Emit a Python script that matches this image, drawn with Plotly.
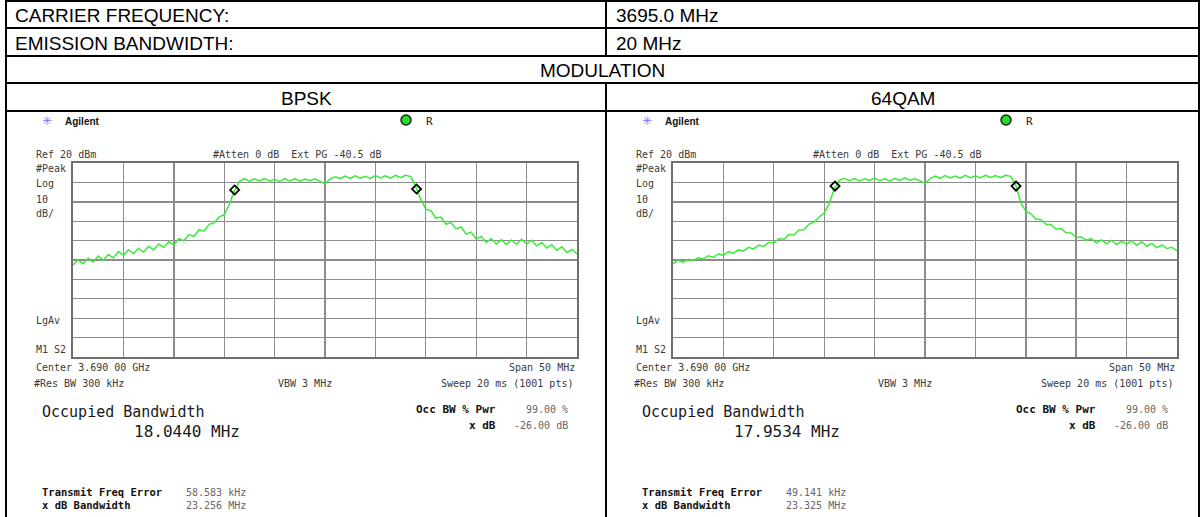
import plotly.graph_objects as go

W, H = 1203, 517

# ---------------- data ----------------
header_labels = ["CARRIER FREQUENCY:", "EMISSION BANDWIDTH:"]
header_values = ["3695.0 MHz", "20 MHz"]
section_title = "MODULATION"
modulations = ["BPSK", "64QAM"]

freq_mhz = [-25.0, -24.5, -24.0, -23.5, -23.0, -22.5, -22.0, -21.5, -21.0, -20.5,
            -20.0, -19.5, -19.0, -18.5, -18.0, -17.5, -17.0, -16.5, -16.0, -15.5,
            -15.0, -14.5, -14.0, -13.5, -13.0, -12.5, -12.0, -11.5, -11.0, -10.5,
            -10.0, -9.5, -9.0, -8.5, -8.0, -7.5, -7.0, -6.5, -6.0, -5.5,
            -5.0, -4.5, -4.0, -3.5, -3.0, -2.5, -2.0, -1.5, -1.0, -0.5,
            0.0, 0.5, 1.0, 1.5, 2.0, 2.5, 3.0, 3.5, 4.0, 4.5,
            5.0, 5.5, 6.0, 6.5, 7.0, 7.5, 8.0, 8.5, 9.0, 9.5,
            10.0, 10.5, 11.0, 11.5, 12.0, 12.5, 13.0, 13.5, 14.0, 14.5,
            15.0, 15.5, 16.0, 16.5, 17.0, 17.5, 18.0, 18.5, 19.0, 19.5,
            20.0, 20.5, 21.0, 21.5, 22.0, 22.5, 23.0, 23.5, 24.0, 24.5, 25.0]

bpsk_dbm = [-32.6, -30.0, -31.9, -29.1, -31.0, -28.0, -30.1, -27.2, -28.9, -25.6,
            -27.6, -24.7, -26.8, -23.9, -25.9, -22.9, -24.8, -21.8, -23.5, -20.6,
            -22.1, -19.0, -20.1, -16.9, -17.8, -14.5, -15.0, -11.6, -10.9, -7.8,
            -6.7, -1.4, 5.6, 10.4, 11.9, 10.6, 11.8, 10.7, 12.0, 10.8,
            11.6, 10.5, 11.9, 10.7, 12.0, 10.6, 11.7, 10.9, 11.9, 10.6,
            9.2, 11.8, 12.9, 11.9, 13.3, 12.1, 13.4, 12.2, 13.1, 12.0,
            13.5, 12.3, 13.4, 12.2, 13.6, 12.4, 13.7, 13.0, 7.8, 1.2,
            -3.8, -4.6, -8.4, -7.9, -11.6, -10.7, -14.0, -13.0, -16.6, -15.6,
            -19.2, -17.8, -20.8, -19.0, -21.7, -19.6, -22.0, -19.7, -21.9, -19.3,
            -21.8, -19.8, -22.7, -21.0, -23.8, -22.1, -25.0, -23.2, -26.1, -24.6, -26.9]

qam64_dbm = [-32.0, -30.2, -31.1, -29.6, -30.4, -28.7, -29.5, -27.8, -28.7, -26.9,
             -27.6, -25.7, -26.5, -24.8, -25.4, -23.5, -24.3, -22.3, -23.0, -20.9,
             -21.3, -19.0, -19.3, -16.9, -17.1, -14.5, -14.4, -11.5, -10.5, -7.8,
             -5.7, -0.8, 6.8, 11.0, 12.1, 10.9, 12.0, 10.8, 11.9, 11.0,
             12.2, 10.9, 11.8, 10.7, 12.1, 11.0, 12.3, 11.1, 11.9, 10.9,
             9.4, 12.0, 13.2, 12.1, 13.5, 12.3, 13.3, 12.2, 13.6, 12.4,
             13.4, 12.3, 13.7, 12.5, 13.5, 12.4, 13.7, 13.1, 8.6, -0.5,
             -4.8, -6.2, -8.9, -9.2, -11.6, -11.8, -14.0, -13.8, -16.0, -16.1,
             -18.4, -18.2, -19.8, -19.0, -21.1, -19.6, -21.6, -19.9, -22.0, -20.4,
             -21.9, -20.0, -22.4, -20.6, -22.9, -21.4, -23.6, -22.2, -24.1, -23.4, -25.3]

bpsk_marker_freq = [-8.96, 9.08]
bpsk_marker_dbm = [6.1, 6.6]
qam64_marker_freq = [-8.93, 9.03]
qam64_marker_dbm = [8.1, 8.1]

occ_bw_values = ["18.0440 MHz", "17.9534 MHz"]
freq_error_values = ["58.583 kHz", "49.141 kHz"]
xdb_bw_values = ["23.256 MHz", "23.325 MHz"]

ref_level_dbm = 20
db_per_div = 10
span_mhz = 50

# ---------------- layout geometry (pixels) ----------------
TL, TR = 6, 1199          # table left/right border
COL = 606                 # column divider
ROWS = [1, 28, 56, 83, 111]
CELL_OFF = [0, 600]       # horizontal offset of the two screenshot cells
GRID_X = (73, 577)
GRID_Y = (163, 357)

MONO = "DejaVu Sans Mono"
ARIAL = "Liberation Sans"

fig = go.Figure()

# pixel canvas axis
fig.add_trace(go.Scatter(x=[0, W], y=[0, H], mode="markers",
                         marker=dict(opacity=0), hoverinfo="skip",
                         showlegend=False, xaxis="x", yaxis="y"))

layout = dict(
    width=W, height=H, margin=dict(l=0, r=0, t=0, b=0, pad=0),
    paper_bgcolor="white", plot_bgcolor="white", showlegend=False,
    xaxis=dict(domain=[0, 1], range=[0, W], visible=False, fixedrange=True),
    yaxis=dict(domain=[0, 1], range=[H, 0], visible=False, fixedrange=True),
)

annotations = []
shapes = []


def ann(x, y, text, size=10, color="#3a3a3a", family=MONO, xanchor="left"):
    annotations.append(dict(x=x, y=y, xref="x", yref="y", text=text,
                            showarrow=False, xanchor=xanchor, yanchor="middle",
                            font=dict(size=size, color=color, family=family),
                            borderpad=0))


def hline(y, x0, x1, w=2, c="black"):
    shapes.append(dict(type="line", xref="x", yref="y", x0=x0, x1=x1, y0=y, y1=y,
                       line=dict(color=c, width=w), layer="above"))


def vline(x, y0, y1, w=2, c="black"):
    shapes.append(dict(type="line", xref="x", yref="y", x0=x, x1=x, y0=y0, y1=y1,
                       line=dict(color=c, width=w), layer="above"))


# table lines
for y in ROWS:
    hline(y, TL - 1, TR + 1)
vline(TL, ROWS[0], H)
vline(TR, ROWS[0], H)
vline(COL, ROWS[0], ROWS[2])
vline(COL, ROWS[3], H)

# header texts
for i in range(2):
    yc = (ROWS[i] + ROWS[i + 1]) / 2 + 1
    ann(TL + 8, yc, header_labels[i], size=19, color="black", family=ARIAL)
    ann(COL + 9, yc, header_values[i], size=19, color="black", family=ARIAL)
ann((TL + TR) / 2, (ROWS[2] + ROWS[3]) / 2 + 1, section_title, size=19,
    color="black", family=ARIAL, xanchor="center")
ann((TL + COL) / 2, (ROWS[3] + ROWS[4]) / 2 + 1, modulations[0], size=19,
    color="black", family=ARIAL, xanchor="center")
ann((COL + TR) / 2, (ROWS[3] + ROWS[4]) / 2 + 1, modulations[1], size=19,
    color="black", family=ARIAL, xanchor="center")

traces_y = [bpsk_dbm, qam64_dbm]
markers_f = [bpsk_marker_freq, qam64_marker_freq]
markers_y = [bpsk_marker_dbm, qam64_marker_dbm]

for k in range(2):
    o = CELL_OFF[k]
    xa = "x%d" % (k + 2)
    ya = "y%d" % (k + 2)
    gx0, gx1 = GRID_X[0] + o, GRID_X[1] + o
    layout["xaxis%d" % (k + 2)] = dict(
        domain=[gx0 / W, gx1 / W], range=[-span_mhz / 2, span_mhz / 2],
        anchor=ya, dtick=5, tick0=-25, showgrid=True, gridcolor="#8c8c8c",
        gridwidth=1.4, showline=True, linecolor="#6e6e6e", linewidth=2,
        mirror=True, showticklabels=False, ticks="", zeroline=False,
        fixedrange=True)
    layout["yaxis%d" % (k + 2)] = dict(
        domain=[1 - GRID_Y[1] / H, 1 - GRID_Y[0] / H],
        range=[ref_level_dbm - 10 * db_per_div, ref_level_dbm],
        anchor=xa, dtick=db_per_div, tick0=ref_level_dbm, showgrid=True,
        gridcolor="#8c8c8c", gridwidth=1.4, showline=True, linecolor="#6e6e6e",
        linewidth=2, mirror=True, showticklabels=False, ticks="",
        zeroline=False, fixedrange=True)

    fig.add_trace(go.Scatter(x=freq_mhz, y=traces_y[k], mode="lines",
                             line=dict(color="#3aeb3a", width=1.5),
                             xaxis=xa, yaxis=ya, hoverinfo="skip"))
    fig.add_trace(go.Scatter(x=markers_f[k], y=markers_y[k], mode="markers",
                             marker=dict(symbol="diamond-open", size=7,
                                         color="black", line=dict(width=1.8)),
                             xaxis=xa, yaxis=ya, hoverinfo="skip"))

    # Agilent header
    ann(41 + o, 121, "✳", size=12, color="#7a7aff", family="DejaVu Sans")
    ann(64 + o, 121, "<b>Agilent</b>", size=10, color="#111", family=ARIAL)
    shapes.append(dict(type="circle", xref="x", yref="y",
                       x0=401 + o, x1=411 + o, y0=115, y1=125,
                       fillcolor="#22dd22", line=dict(color="#222", width=1.5),
                       layer="above"))
    ann(425 + o, 121, "R", size=11, color="#222", family=MONO)

    ann(35 + o, 154, "Ref 20 dBm")
    ann(212 + o, 154, "#Atten 0 dB  Ext PG -40.5 dB")
    ann(35 + o, 168, "#Peak")
    ann(35 + o, 183, "Log")
    ann(35 + o, 199, "10")
    ann(35 + o, 213, "dB/")
    ann(35 + o, 320, "LgAv")
    ann(35 + o, 349, "M1 S2")
    ann(35 + o, 367, "Center 3.690 00 GHz")
    ann(576 + o, 367, "Span 50 MHz", xanchor="right")
    ann(33 + o, 383, "#Res BW 300 kHz")
    ann(277 + o, 383, "VBW 3 MHz")
    ann(574 + o, 383, "Sweep 20 ms (1001 pts)", xanchor="right")

    ann(41 + o, 412, "Occupied Bandwidth", size=15, color="#1a1a1a")
    ann(133 + o, 431, occ_bw_values[k], size=16, color="#1a1a1a")
    ann(497 + o, 409, "<b>Occ BW % Pwr</b>", size=11, color="#111", xanchor="right")
    ann(569 + o, 409, "99.00 %", color="#666", xanchor="right")
    ann(497 + o, 425, "<b>x dB</b>", size=11, color="#111", xanchor="right")
    ann(569 + o, 425, "-26.00 dB", color="#666", xanchor="right")

    ann(41 + o, 492, "<b>Transmit Freq Error</b>", size=10.5, color="#111")
    ann(185 + o, 492, freq_error_values[k], color="#666")
    ann(41 + o, 505, "<b>x dB Bandwidth</b>", size=10.5, color="#111")
    ann(185 + o, 505, xdb_bw_values[k], color="#666")

layout["annotations"] = annotations
layout["shapes"] = shapes
fig.update_layout(**layout)

fig.write_html("out.html", config={"displayModeBar": False, "staticPlot": True},
               post_script="document.body.style.margin='0px';document.body.style.overflow='hidden';")
